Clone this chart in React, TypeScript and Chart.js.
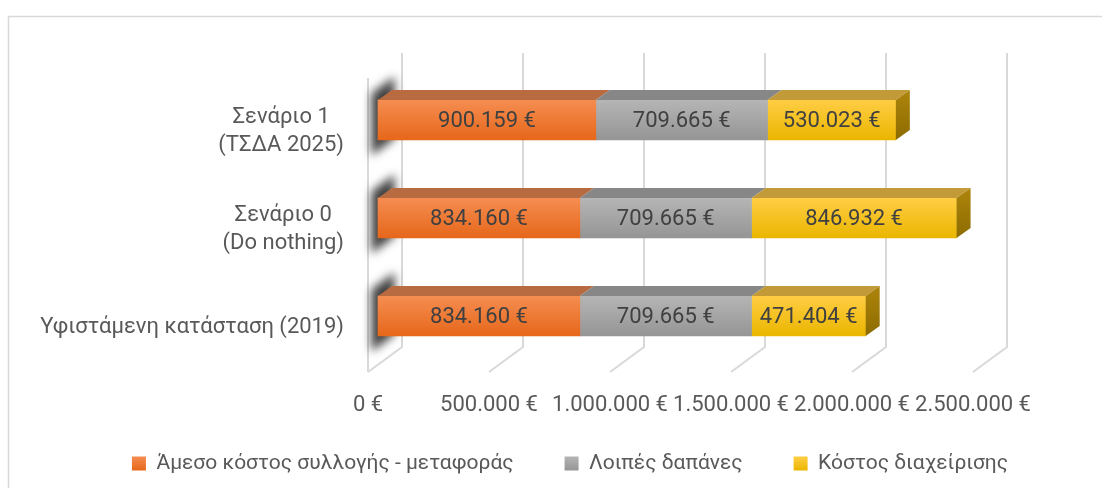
import React, { useEffect, useRef } from 'react';
import { Chart, registerables } from 'chart.js';

Chart.register(...registerables);

// ---- data ----
const categories: string[][] = [
  ['Σενάριο 1', '(ΤΣΔΑ 2025)'],
  ['Σενάριο 0', '(Do nothing)'],
  ['Υφιστάμενη κατάσταση (2019)'],
];
const seriesNames = ['Άμεσο κόστος συλλογής - μεταφοράς', 'Λοιπές δαπάνες', 'Κόστος διαχείρισης'];
const directCost = [900159, 834160, 834160];
const otherCost = [709665, 709665, 709665];
const mgmtCost = [530023, 846932, 471404];
const xMin = 0;
const xMax = 2500000;
const xStep = 500000;

// ---- styles ----
const frontTop = ['#F58D51', '#B5B5B5', '#FFCD44'];
const frontBottom = ['#E6671A', '#959595', '#EAB600'];
const topFace = ['#B86B40', '#878787', '#C29A38'];
const sideTop = '#AE850C';
const sideBottom = '#8C6C00';
const FONT = 'Roboto';
const TEXT = '#595959';
const LABEL = '#404040';

const fmt = (v: number) => String(Math.round(v)).replace(/\B(?=(\d{3})+(?!\d))/g, '.') + ' €';

export default function App() {
  const ref = useRef<HTMLCanvasElement>(null);

  useEffect(() => {
    const canvas = ref.current!;
    const DX = 10, DY = -7; // bar front face offset from front plane
    const BDX = 14, BDY = -10; // bar depth
    const WDX = 34, WDY = -25; // wall depth
    const BAR = 40;
    const PAD_B = 4;
    const LEG_FONT = 21;

    const plugin: any = {
      id: 'threeD',
      beforeDraw(chart: any) {
        const ctx = chart.ctx;
        ctx.save();
        ctx.fillStyle = '#ffffff';
        ctx.fillRect(0, 0, chart.width, chart.height);
        ctx.strokeStyle = '#d9d9d9';
        ctx.lineWidth = 1.5;
        ctx.beginPath();
        ctx.moveTo(8.5, chart.height);
        ctx.lineTo(8.5, 16.5);
        ctx.lineTo(chart.width, 16.5);
        ctx.stroke();
        ctx.restore();
      },
      beforeDatasetsDraw(chart: any) {
        const { ctx, chartArea, scales } = chart;
        const xs = scales.x, ys = scales.y;
        ctx.save();
        ctx.strokeStyle = '#d9d9d9';
        ctx.lineWidth = 2;
        ctx.beginPath();
        ctx.moveTo(xs.left, chartArea.top);
        ctx.lineTo(xs.left, chartArea.bottom);
        ctx.stroke();
        xs.ticks.forEach((t: any) => {
          const px = xs.getPixelForValue(t.value);
          ctx.beginPath();
          ctx.moveTo(px + WDX, chartArea.top + WDY);
          ctx.lineTo(px + WDX, chartArea.bottom + WDY);
          ctx.lineTo(px, chartArea.bottom);
          ctx.stroke();
        });
        // shadows of bars on the left wall
        ctx.filter = 'blur(5px)';
        ctx.fillStyle = 'rgba(30,30,30,0.85)';
        const x0 = xs.left;
        categories.forEach((_, i) => {
          const cy = ys.getPixelForValue(i);
          const p = (t: number, y: number) => [x0 + WDX * t, y + WDY * t];
          const a = p(0.1, cy - 31), b = p(0.78, cy - 31), c = p(0.78, cy + 31), d = p(0.1, cy + 31);
          ctx.beginPath();
          ctx.moveTo(a[0], a[1]);
          ctx.lineTo(b[0], b[1]);
          ctx.lineTo(c[0], c[1]);
          ctx.lineTo(d[0], d[1]);
          ctx.closePath();
          ctx.fill();
        });
        ctx.restore();

        // category labels
        ctx.save();
        ctx.font = `22px ${FONT}`;
        ctx.fillStyle = TEXT;
        ctx.textAlign = 'center';
        ctx.textBaseline = 'middle';
        const right = xs.left - 24;
        const lh = 28;
        categories.forEach((lines, i) => {
          const cy = ys.getPixelForValue(i) + 4;
          const w = Math.max(...lines.map((l) => ctx.measureText(l).width));
          const cx = right - w / 2;
          lines.forEach((l, k) => {
            ctx.fillText(l, cx, cy + (k - (lines.length - 1) / 2) * lh);
          });
        });
        ctx.restore();

        ctx.save();
        ctx.translate(DX, DY);
      },
      afterDatasetsDraw(chart: any) {
        const ctx = chart.ctx;
        ctx.restore();
        const n = chart.data.datasets.length;
        ctx.save();
        for (let d = 0; d < n; d++) {
          const meta = chart.getDatasetMeta(d);
          meta.data.forEach((el: any) => {
            const { x, y, base, height } = el.getProps(['x', 'y', 'base', 'height'], true);
            const l = Math.min(base, x) + DX, r = Math.max(base, x) + DX;
            const top = y - height / 2 + DY, bot = y + height / 2 + DY;
            ctx.fillStyle = topFace[d];
            ctx.beginPath();
            ctx.moveTo(l, top);
            ctx.lineTo(r, top);
            ctx.lineTo(r + BDX, top + BDY);
            ctx.lineTo(l + BDX, top + BDY);
            ctx.closePath();
            ctx.fill();
            if (d === n - 1) {
              const g = ctx.createLinearGradient(0, top + BDY, 0, bot);
              g.addColorStop(0, sideTop);
              g.addColorStop(1, sideBottom);
              ctx.fillStyle = g;
              ctx.beginPath();
              ctx.moveTo(r, top);
              ctx.lineTo(r + BDX, top + BDY);
              ctx.lineTo(r + BDX, bot + BDY);
              ctx.lineTo(r, bot);
              ctx.closePath();
              ctx.fill();
            }
          });
        }
        // value labels
        ctx.font = `22px ${FONT}`;
        ctx.fillStyle = LABEL;
        ctx.textAlign = 'center';
        ctx.textBaseline = 'middle';
        for (let d = 0; d < n; d++) {
          const meta = chart.getDatasetMeta(d);
          const vals = chart.data.datasets[d].data as number[];
          meta.data.forEach((el: any, i: number) => {
            const { x, y, base } = el.getProps(['x', 'y', 'base'], true);
            ctx.fillText(fmt(vals[i]), (x + base) / 2 + DX, y + DY + 1);
          });
        }
        ctx.restore();
      },
    };

    const legendY = 488 - PAD_B - 10 - LEG_FONT / 2;
    const legendFill = (d: number) => {
      const g = canvas.getContext('2d')!.createLinearGradient(0, legendY - 7, 0, legendY + 7);
      g.addColorStop(0, frontTop[d]);
      g.addColorStop(1, frontBottom[d]);
      return g;
    };

    const makeBg = (d: number) => (c: any) => {
      const chart = c.chart;
      const ys = chart.scales && chart.scales.y;
      if (!chart.chartArea || !ys || c.dataIndex === undefined) return frontBottom[d];
      const cy = ys.getPixelForValue(c.dataIndex);
      const g = chart.ctx.createLinearGradient(0, cy - BAR / 2, 0, cy + BAR / 2);
      g.addColorStop(0, frontTop[d]);
      g.addColorStop(1, frontBottom[d]);
      return g;
    };

    const seriesData = [directCost, otherCost, mgmtCost];

    const chart = new Chart(canvas, {
      type: 'bar',
      data: {
        labels: categories.map((c) => c.join(' ')),
        datasets: seriesData.map((data, d) => ({
          label: seriesNames[d],
          data,
          backgroundColor: makeBg(d),
          borderWidth: 0,
          barThickness: BAR,
          clip: false as any,
        })),
      },
      options: {
        indexAxis: 'y',
        animation: false,
        responsive: false,
        devicePixelRatio: 1,
        layout: { padding: { left: 38, right: 0, top: 78, bottom: PAD_B } },
        scales: {
          x: {
            type: 'linear',
            stacked: true,
            min: xMin,
            max: xMax,
            grid: { display: false, drawTicks: false, tickLength: 0 },
            border: { display: false },
            ticks: {
              stepSize: xStep,
              autoSkip: false,
              maxRotation: 0,
              padding: 20,
              color: TEXT,
              font: { family: FONT, size: 22 },
              callback: (v: any) => fmt(Number(v)),
            },
            afterFit: (s: any) => {
              s.height = 30;
              // let the tick labels extend below the (short) axis box
              s._computeLabelArea = () => undefined;
            },
          },
          y: {
            type: 'category',
            stacked: true,
            grid: { display: false, drawTicks: false },
            border: { display: false },
            ticks: { display: false },
            afterFit: (s: any) => { s.width = 330; },
          },
          y2: {
            type: 'linear',
            position: 'right',
            display: true,
            grid: { display: false, drawTicks: false },
            border: { display: false },
            ticks: { display: false },
            afterFit: (s: any) => { s.width = 129; },
          },
        },
        plugins: {
          tooltip: { enabled: false },
          legend: {
            position: 'bottom',
            labels: {
              boxWidth: 14,
              boxHeight: 14,
              padding: 51,
              color: TEXT,
              font: { family: FONT, size: LEG_FONT },
              generateLabels: (ch: any) => {
                const items = (Chart as any).defaults.plugins.legend.labels.generateLabels(ch);
                items.forEach((it: any, i: number) => {
                  it.fillStyle = legendFill(i);
                  it.strokeStyle = 'rgba(0,0,0,0)';
                  it.lineWidth = 0;
                });
                return items;
              },
            },
          },
        },
      } as any,
      plugins: [plugin],
    });

    return () => chart.destroy();
  }, []);

  return (
    <div style={{ position: 'fixed', left: 0, top: 0, width: 1102, height: 488, background: '#fff' }}>
      <canvas ref={ref} width={1102} height={488} style={{ display: 'block', width: 1102, height: 488 }} />
    </div>
  );
}
